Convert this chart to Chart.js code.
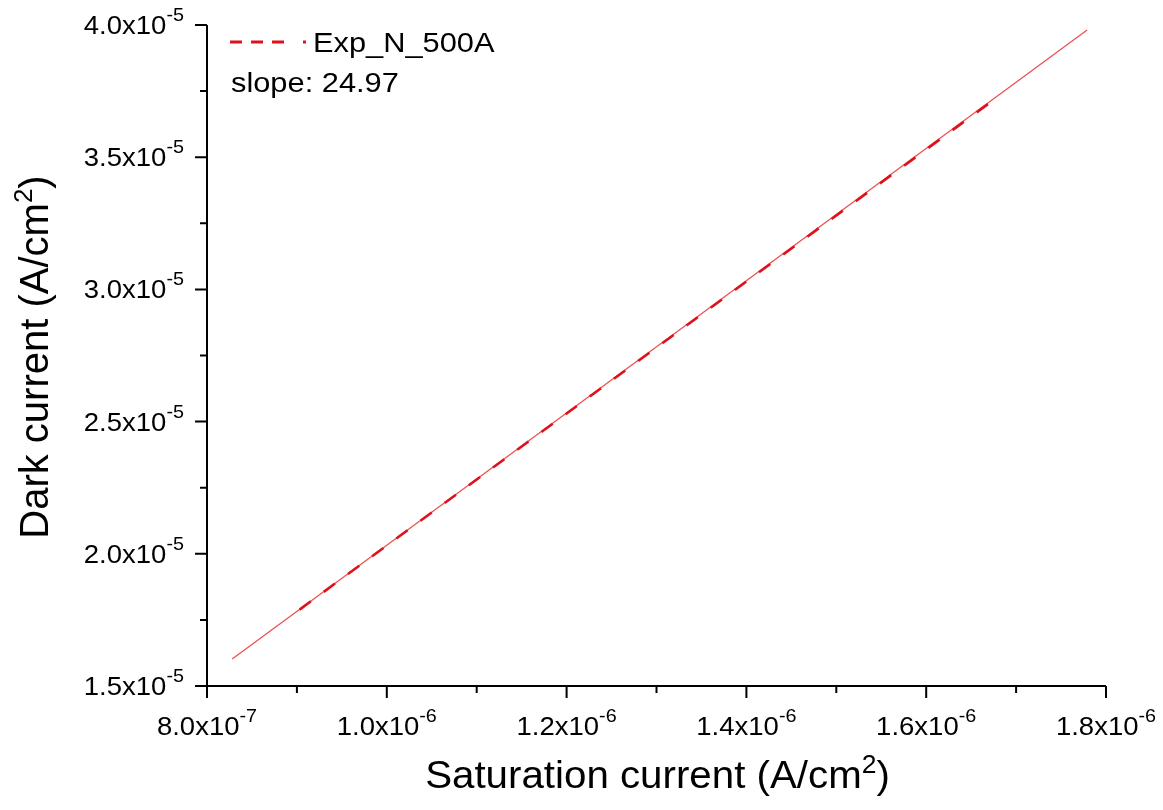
<!DOCTYPE html>
<html>
<head>
<meta charset="utf-8">
<script src="https://cdn.jsdelivr.net/npm/chart.js@4"></script>
<style>
  body { margin: 0; background: #fff; }
  #wrap { width: 1163px; height: 810px; }
</style>
</head>
<body>
<div id="wrap"><canvas id="ivChart"></canvas></div>
<script>
// linear fit (thin solid) and measured data (dashed)
const fitX = [8.28e-7, 1.779e-6];
const fitY = [1.602e-5, 3.981e-5];
const expX = [9.03e-7, 1.682e-6];
const expY = [1.789e-5, 3.734e-5];

const slopeText = 'slope: 24.97';
const expLabel = 'Exp_N_500A';

// axis ticks
const xMajor = [8e-7, 1.0e-6, 1.2e-6, 1.4e-6, 1.6e-6, 1.8e-6];
const xMinor = [9e-7, 1.1e-6, 1.3e-6, 1.5e-6, 1.7e-6];
const xTickBase = ['8.0x10', '1.0x10', '1.2x10', '1.4x10', '1.6x10', '1.8x10'];
const xTickExp = ['-7', '-6', '-6', '-6', '-6', '-6'];

const yMajor = [1.5e-5, 2.0e-5, 2.5e-5, 3.0e-5, 3.5e-5, 4.0e-5];
const yMinor = [1.75e-5, 2.25e-5, 2.75e-5, 3.25e-5, 3.75e-5];
const yTickBase = ['1.5x10', '2.0x10', '2.5x10', '3.0x10', '3.5x10', '4.0x10'];
const yTickExp = ['-5', '-5', '-5', '-5', '-5', '-5'];

const FONT = '"Liberation Sans", Arial, sans-serif';
const STRETCH = 1.1;

function textW(ctx, str, size, sx) {
  ctx.font = size + 'px ' + FONT;
  return ctx.measureText(str).width * sx;
}

function drawStr(ctx, str, x, y, size, sx) {
  ctx.save();
  ctx.font = size + 'px ' + FONT;
  ctx.translate(x, y);
  ctx.scale(sx, 1);
  ctx.textAlign = 'left';
  ctx.textBaseline = 'alphabetic';
  ctx.fillText(str, 0, 0);
  ctx.restore();
}

// base text + superscript + optional tail, left aligned at x
function supWidth(ctx, parts) {
  let w = textW(ctx, parts.base, parts.size, parts.sx) + textW(ctx, parts.sup, parts.supSize, parts.sx);
  if (parts.tail) w += textW(ctx, parts.tail, parts.size, parts.sx);
  return w;
}

function drawSup(ctx, parts, x, y) {
  drawStr(ctx, parts.base, x, y, parts.size, parts.sx);
  x += textW(ctx, parts.base, parts.size, parts.sx);
  drawStr(ctx, parts.sup, x, y - parts.rise, parts.supSize, parts.sx);
  x += textW(ctx, parts.sup, parts.supSize, parts.sx);
  if (parts.tail) drawStr(ctx, parts.tail, x, y, parts.size, parts.sx);
}

const axesPlugin = {
  id: 'originAxes',
  afterDraw(chart) {
    const ctx = chart.ctx;
    const area = chart.chartArea;
    const xs = chart.scales.x;
    const ys = chart.scales.y;
    ctx.save();
    ctx.strokeStyle = '#000';
    ctx.fillStyle = '#000';
    ctx.lineWidth = 2;

    // axis lines
    ctx.beginPath();
    ctx.moveTo(area.left, area.top);
    ctx.lineTo(area.left, area.bottom);
    ctx.lineTo(area.right, area.bottom);
    ctx.stroke();

    // ticks, pointing outward
    ctx.beginPath();
    xMajor.forEach(v => {
      const px = xs.getPixelForValue(v);
      ctx.moveTo(px, area.bottom);
      ctx.lineTo(px, area.bottom + 12);
    });
    xMinor.forEach(v => {
      const px = xs.getPixelForValue(v);
      ctx.moveTo(px, area.bottom);
      ctx.lineTo(px, area.bottom + 7);
    });
    yMajor.forEach(v => {
      const py = ys.getPixelForValue(v);
      ctx.moveTo(area.left, py);
      ctx.lineTo(area.left - 12, py);
    });
    yMinor.forEach(v => {
      const py = ys.getPixelForValue(v);
      ctx.moveTo(area.left, py);
      ctx.lineTo(area.left - 7, py);
    });
    ctx.stroke();

    // tick labels
    xMajor.forEach((v, i) => {
      const parts = { base: xTickBase[i], sup: xTickExp[i], size: 25, supSize: 18, rise: 13, sx: STRETCH };
      const w = supWidth(ctx, parts);
      drawSup(ctx, parts, xs.getPixelForValue(v) - w / 2, area.bottom + 49);
    });
    yMajor.forEach((v, i) => {
      const parts = { base: yTickBase[i], sup: yTickExp[i], size: 25, supSize: 18, rise: 13, sx: STRETCH };
      const w = supWidth(ctx, parts);
      drawSup(ctx, parts, area.left - 23 - w, ys.getPixelForValue(v) + 9);
    });

    // axis titles
    const xTitle = { base: 'Saturation current (A/cm', sup: '2', tail: ')', size: 38, supSize: 25, rise: 15, sx: 1.06 };
    const xw = supWidth(ctx, xTitle);
    drawSup(ctx, xTitle, (area.left + area.right) / 2 - xw / 2 + 1, 788);

    const yTitle = { base: 'Dark current (A/cm', sup: '2', tail: ')', size: 40, supSize: 26, rise: 16, sx: 1 };
    const yw = supWidth(ctx, yTitle);
    ctx.save();
    ctx.translate(48, 357);
    ctx.rotate(-Math.PI / 2);
    drawSup(ctx, yTitle, -yw / 2, 0);
    ctx.restore();

    // legend
    const ds = chart.data.datasets[1];
    ctx.strokeStyle = ds.borderColor;
    ctx.lineWidth = 3;
    ctx.setLineDash([12, 9, 12, 9, 12, 19, 3, 0]);
    ctx.beginPath();
    ctx.moveTo(230, 42);
    ctx.lineTo(306, 42);
    ctx.stroke();
    ctx.setLineDash([]);
    drawStr(ctx, ds.label, 313, 52, 28, STRETCH);
    drawStr(ctx, slopeText, 231, 92, 28, STRETCH);

    ctx.restore();
  }
};

const toPoints = (xv, yv) => xv.map((x, i) => ({ x: x, y: yv[i] }));

const ctx = document.getElementById('ivChart').getContext('2d');
const ivChart = new Chart(ctx, {
  type: 'scatter',
  data: {
    datasets: [{
      label: 'Linear fit',
      data: toPoints(fitX, fitY),
      showLine: true,
      borderColor: 'rgb(236, 80, 80)',
      borderWidth: 1.3,
      pointRadius: 0,
      order: 1
    }, {
      label: expLabel,
      data: toPoints(expX, expY),
      showLine: true,
      borderColor: 'rgb(222, 18, 28)',
      borderWidth: 2.6,
      borderDash: [14, 16],
      pointRadius: 0,
      order: 0
    }]
  },
  options: {
    responsive: true,
    maintainAspectRatio: false,
    animation: false,
    layout: {
      padding: { left: 207, right: 57, top: 25, bottom: 124 }
    },
    scales: {
      x: { type: 'linear', display: false, min: 8e-7, max: 1.8e-6 },
      y: { type: 'linear', display: false, min: 1.5e-5, max: 4.0e-5 }
    },
    plugins: {
      legend: { display: false },
      tooltip: { enabled: false }
    }
  },
  plugins: [axesPlugin]
});
</script>
</body>
</html>
